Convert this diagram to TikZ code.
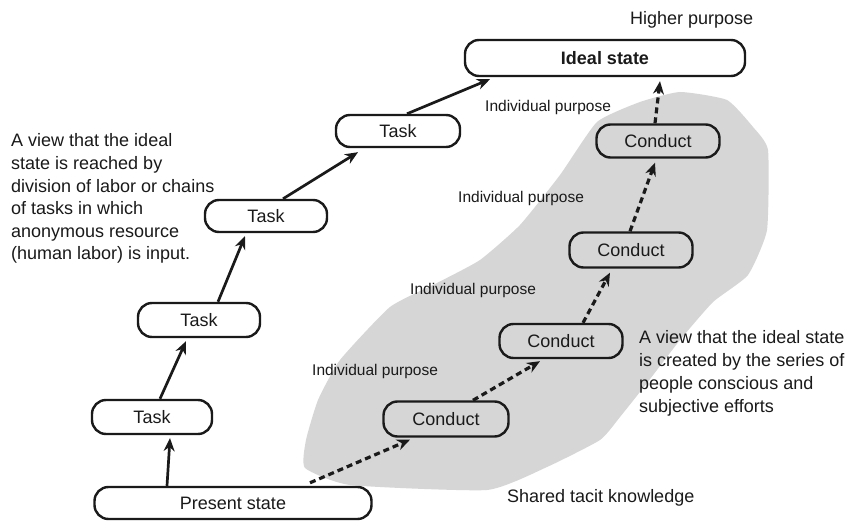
\documentclass[tikz,border=0pt]{standalone}
\usepackage{fontspec}
\setmainfont{Liberation Sans}
\usetikzlibrary{arrows.meta,calc}
\definecolor{ink}{HTML}{1A1A1A}
\definecolor{blob}{HTML}{D6D6D6}
\begin{document}
\begin{tikzpicture}[x=1pt,y=-1pt,
  box/.style={draw=ink, line width=2.4pt, rounded corners=14pt, inner sep=0pt,
    font=\fontsize{18}{20}\selectfont, text=ink},
  solidarrow/.style={draw=ink, line width=2.7pt, -{Stealth[length=13pt,width=11pt]}},
  dotarrow/.style={draw=ink, line width=3.2pt, dash pattern=on 6pt off 4pt, -{Stealth[length=13pt,width=11pt]}},
  lbl/.style={inner sep=0pt, text=ink, font=\fontsize{18}{22.6}\selectfont},
  small/.style={inner sep=0pt, text=ink, font=\fontsize{15.5}{18}\selectfont}]
\useasboundingbox (0,0) rectangle (854,521);
\fill[white] (0,0) rectangle (854,521);

% shared tacit knowledge area
\fill[blob] plot[smooth cycle, tension=0.3] coordinates {
  (597,122) (640,102) (680,92) (727,100) (753,127) (768,150) (767,230)
  (748,275) (713,302) (680,340) (647,383) (620,417) (600,440) (547,467)
  (487,490) (350,485) (305,468) (306,440) (318,400) (340,360) (390,307)
  (437,283) (480,260) (520,225) (560,175)};

% nodes
\node[box, minimum width=280pt, minimum height=36pt, font=\fontsize{18}{20}\selectfont\bfseries] (ideal) at (605,58) {Ideal state};
\node[box, minimum width=124pt, minimum height=32pt] (task1) at (398,131) {Task};
\node[box, minimum width=122pt, minimum height=32pt] (task2) at (266,216) {Task};
\node[box, minimum width=122pt, minimum height=34pt] (task3) at (199,320) {Task};
\node[box, minimum width=120pt, minimum height=34pt] (task4) at (152,417) {Task};
\node[box, minimum width=277pt, minimum height=32pt] (present) at (233,503) {Present state};
\node[box, minimum width=125pt, minimum height=35pt] (cond1) at (446,419) {Conduct};
\node[box, minimum width=123pt, minimum height=34pt] (cond2) at (561,341) {Conduct};
\node[box, minimum width=123pt, minimum height=35pt] (cond3) at (631,250) {Conduct};
\node[box, minimum width=123pt, minimum height=33pt] (cond4) at (658,141) {Conduct};

% texts
\node[lbl, anchor=base west] (higher) at (630,25) {Higher purpose};
\node[small, anchor=base west] (ip1) at (485,112) {Individual purpose};
\node[small, anchor=base west] (ip2) at (458,203) {Individual purpose};
\node[small, anchor=base west] (ip3) at (410,295) {Individual purpose};
\node[small, anchor=base west] (ip4) at (312,375) {Individual purpose};
\node[lbl, anchor=base west] (shared) at (507,502) {Shared tacit knowledge};
\node[lbl, anchor=base west] (leftview) at (11,147) {\begin{tabular}[t]{@{}l@{}}
A view that the ideal\\
state is reached by\\
division of labor or chains\\
of tasks in which\\
anonymous resource\\
(human labor) is input.\end{tabular}};
\node[lbl, anchor=base west, font=\fontsize{18}{23.3}\selectfont] (rightview) at (639,343) {\begin{tabular}[t]{@{}l@{}}
A view that the ideal state\\
is created by the series of\\
people conscious and\\
subjective efforts\end{tabular}};

% solid arrows
\draw[solidarrow] ([xshift=-66pt]present.north) -- ([xshift=18pt,yshift=-3pt]task4.south);
\draw[solidarrow] ([xshift=8pt]task4.north) -- ([xshift=-13pt,yshift=-3pt]task3.south);
\draw[solidarrow] ([xshift=19pt]task3.north) -- ([xshift=-21pt,yshift=-3pt]task2.south);
\draw[solidarrow] ([xshift=17pt]task2.north) -- ([xshift=-40pt,yshift=-4pt]task1.south);
\draw[solidarrow] ([xshift=9pt]task1.north) -- ([xshift=-115pt,yshift=-2pt]ideal.south);

% dotted arrows
\draw[dotarrow] ([xshift=77pt,yshift=3pt]present.north) -- ([xshift=-36pt,yshift=-2pt]cond1.south);
\draw[dotarrow] ([xshift=27pt]cond1.north) -- ([xshift=-21pt,yshift=-2pt]cond2.south);
\draw[dotarrow] ([xshift=22pt]cond2.north) -- ([xshift=-21pt,yshift=-4pt]cond3.south);
\draw[dotarrow] ([xshift=-1pt]cond3.north) -- ([xshift=-3pt,yshift=-4pt]cond4.south);
\draw[dotarrow] ([xshift=-3pt]cond4.north) -- ([xshift=55pt,yshift=-4pt]ideal.south);
\end{tikzpicture}
\end{document}
